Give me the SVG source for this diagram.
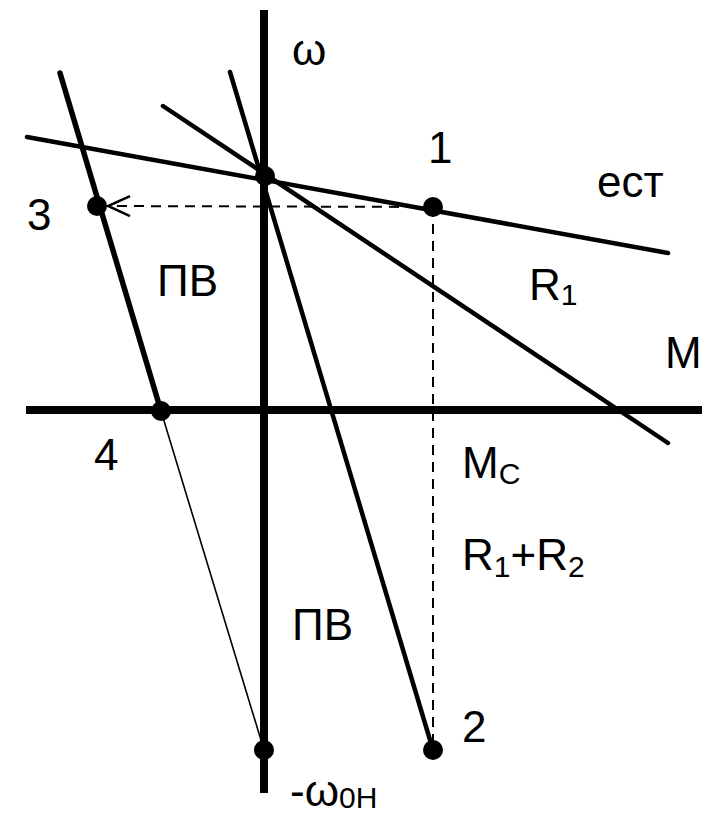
<svg xmlns="http://www.w3.org/2000/svg" width="702" height="816" viewBox="0 0 702 816">
<style>
.t{font-family:"Liberation Sans",Arial,sans-serif;font-size:44px;fill:#000}
.s{font-size:30px}
.axis{stroke:#000;stroke-width:8;fill:none}
.ch{stroke:#000;stroke-width:4.5;fill:none;stroke-linecap:round}
.dash{stroke:#000;stroke-width:2;stroke-dasharray:10 7;fill:none}
.dot{fill:#000}
</style>
<defs>
<marker id="arr" markerWidth="26" markerHeight="24" refX="23" refY="11" orient="auto" markerUnits="userSpaceOnUse">
<path d="M1,1 L23,11 L1,21" fill="none" stroke="#000" stroke-width="2.5"/>
</marker>
</defs>
<rect width="702" height="816" fill="#fff"/>
<g id="connectors">
<line class="axis" x1="264" y1="10" x2="264" y2="793"/>
<line class="axis" x1="26" y1="410" x2="702" y2="410"/>
<line class="ch" x1="27" y1="137" x2="668" y2="253"/>
<line class="ch" x1="163" y1="106" x2="668" y2="443"/>
<line class="ch" x1="230" y1="72" x2="433" y2="750"/>
<line class="ch" x1="60" y1="73" x2="161" y2="411" style="stroke-width:5.5"/>
<line x1="161" y1="411" x2="264" y2="750" stroke="#000" stroke-width="1.6"/>
<line class="dash" x1="433" y1="207" x2="108" y2="206" marker-end="url(#arr)"/>
<line class="dash" x1="433" y1="207" x2="433" y2="750"/>
</g>
<g id="node-omega0"><circle class="dot" cx="265" cy="176" r="10"/></g>
<g id="node-1"><circle class="dot" cx="433" cy="207" r="10"/><text class="t" x="428" y="163">1</text></g>
<g id="node-3"><circle class="dot" cx="97" cy="206" r="10"/><text class="t" x="27" y="230">3</text></g>
<g id="node-4"><circle class="dot" cx="161" cy="411" r="10"/><text class="t" x="94" y="470">4</text></g>
<g id="node-2"><circle class="dot" cx="433" cy="750" r="10"/><text class="t" x="462" y="742">2</text></g>
<g id="node-w0h"><circle class="dot" cx="264" cy="750" r="10"/><text class="t" x="290" y="806">-ω<tspan class="s" dy="2">0H</tspan></text></g>
<g id="labels">
<text class="t" x="292" y="65">ω</text>
<text class="t" x="597" y="197">ест</text>
<text class="t" x="529" y="300">R<tspan class="s" dy="5">1</tspan></text>
<text class="t" x="665" y="368">M</text>
<text class="t" x="157" y="296">ПВ</text>
<text class="t" x="292" y="640">ПВ</text>
<text class="t" x="462" y="478">M<tspan class="s" dy="6">C</tspan></text>
<text class="t" x="462" y="570">R<tspan class="s" dy="7">1</tspan><tspan dy="-7">+R</tspan><tspan class="s" dy="7">2</tspan></text>
</g>
</svg>
